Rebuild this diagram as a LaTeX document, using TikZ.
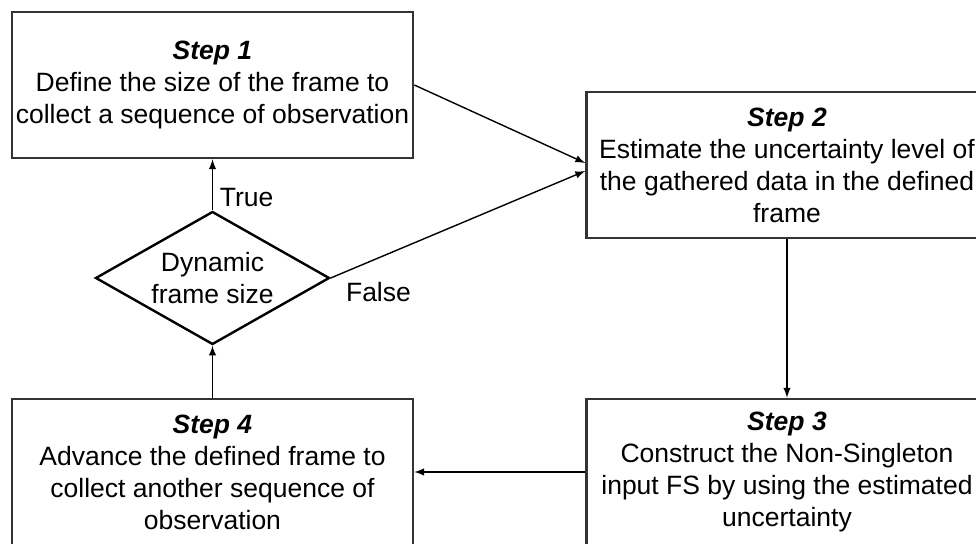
\documentclass[tikz,border=0pt]{standalone}
\usepackage{fontspec}
\setmainfont{Liberation Sans}
\usepackage{tikz}
\usetikzlibrary{shapes.geometric}
\usetikzlibrary{positioning}
\tikzset{stepbox/.style={rectangle,draw=black!80,line width=1.3pt,minimum width=200.5pt,minimum height=73pt,inner sep=1pt,align=center,font=\fontsize{13.25}{16}\selectfont},
decision/.style={diamond,draw,line width=1.2pt,aspect=1.76,minimum width=117pt,minimum height=66.5pt,inner sep=0pt,align=center,font=\fontsize{13.25}{16}\selectfont}}
\newcommand{\stephead}[1]{\textbf{\textit{#1}}}

\begin{document}
\begin{tikzpicture}[line width=0.7pt]
\useasboundingbox (-106.25pt,-229.5pt) rectangle (381.75pt,42.5pt);
\node (s1) [stepbox] {\stephead{Step 1}\\Define the size of the frame to\\collect a sequence of observation};
\node (dfs) [below of=s1, node distance=96.5pt, decision] {Dynamic\\frame size};
\node (s4) [below of=dfs, node distance=97pt, stepbox] {\stephead{Step 4}\\Advance the defined frame to\\collect another sequence of\\observation};
\node (s3) [right of=s4, node distance=287.25pt, stepbox] {\stephead{Step 3}\\Construct the Non-Singleton\\input FS by using the estimated\\uncertainty};
\node (s2) [above of=s3, node distance=153.5pt, stepbox] {\stephead{Step 2}\\Estimate the uncertainty level of\\the gathered data in the defined\\frame};

\draw[-latex] (s1.east) -- ([yshift=1pt]s2.west);
\draw[-latex] (dfs.east) -- ([yshift=-3pt]s2.west) node [pos=0, anchor=north west, xshift=4pt, yshift=1.5pt, font=\fontsize{13.25}{16}\selectfont] {False};
\draw[-latex] (dfs) -- (s1) node [pos=0.25, right, font=\fontsize{13.25}{16}\selectfont] {True};
\draw[-latex] (s2) -- (s3);
\draw[-latex] (s3) -- (s4);
\draw[-latex] (s4) -- (dfs);
\end{tikzpicture}
\end{document}
